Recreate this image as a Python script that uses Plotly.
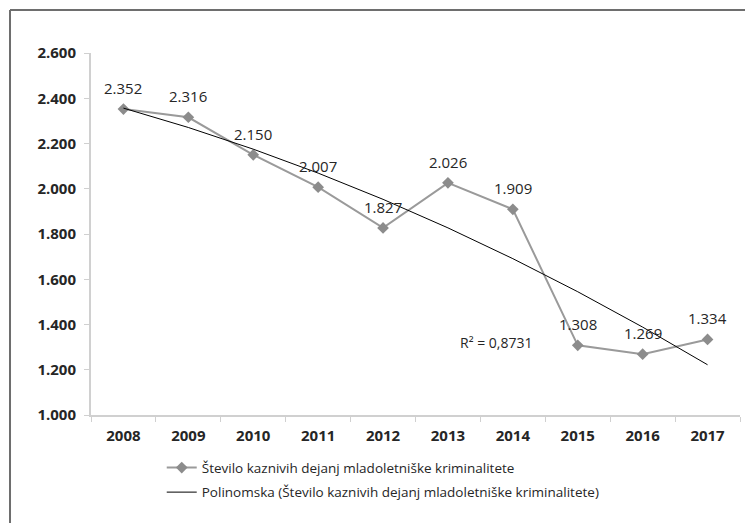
import numpy as np
import plotly.graph_objects as go

# data
years = ["2008", "2009", "2010", "2011", "2012", "2013", "2014", "2015", "2016", "2017"]
cases = [2352, 2316, 2150, 2007, 1827, 2026, 1909, 1308, 1269, 1334]
series_name = "Število kaznivih dejanj mladoletniške kriminalitete"
trend_name = "Polinomska (Število kaznivih dejanj mladoletniške kriminalitete)"
r2_label = "R² = 0,8731"

# 2nd order polynomial trendline like Excel
xs = np.arange(1, len(cases) + 1)
coef = np.polyfit(xs, cases, 2)
trend = np.polyval(coef, xs)

FONT = "Open Sans"
TXT = "#262626"

fig = go.Figure()
fig.add_trace(go.Scatter(
    x=years, y=cases, name=series_name, mode="lines+markers",
    line=dict(color="#9a9a9a", width=2),
    marker=dict(symbol="diamond", size=9, color="#8c8c8c"),
    legendgroup="a",
))
fig.add_trace(go.Scatter(
    x=years, y=list(trend), name=trend_name, mode="lines",
    line=dict(color="#000000", width=1),
    legendgroup="b",
))

# data labels above each point (category index as x)
for i, v in enumerate(cases):
    fig.add_annotation(
        x=i, y=v, text=f"{v:,}".replace(",", "."), showarrow=False,
        yshift=21, font=dict(family=FONT, size=15, color=TXT),
    )

fig.add_annotation(
    xref="paper", yref="paper", x=0.565, y=0.199, xanchor="left", yanchor="middle",
    text=r2_label, showarrow=False, font=dict(family=FONT, size=14, color=TXT),
)

# chart frame (top and left edges visible)
fig.add_shape(type="line", xref="paper", yref="paper", x0=-0.1248, x1=1.2,
              y0=1.1188, y1=1.1188, line=dict(color="#6e6e6e", width=2))
fig.add_shape(type="line", xref="paper", yref="paper", x0=-0.1248, x1=-0.1248,
              y0=1.1188, y1=-0.4, line=dict(color="#6e6e6e", width=2))

# page body has an 8px margin, so the figure is a bit smaller than the window
fig.update_layout(
    width=745, height=515,
    margin=dict(l=83, r=13, t=45, b=108),
    paper_bgcolor="white", plot_bgcolor="white",
    separators=",.",
    font=dict(family=FONT, color=TXT),
    legend=dict(
        x=0.109, y=-0.103, xanchor="left", yanchor="top",
        font=dict(family=FONT, size=13.5, color=TXT),
        traceorder="grouped", tracegroupgap=4,
        bgcolor="rgba(0,0,0,0)",
    ),
    xaxis=dict(
        type="category", range=[-0.5, len(years) - 0.5],
        showgrid=False, showline=True, linecolor="#d0d0d0", linewidth=2,
        ticks="outside", tickson="boundaries", ticklen=5, tickcolor="#d0d0d0",
        tickfont=dict(family=FONT, size=15, color=TXT, weight="bold"),
        tickangle=0, ticklabelstandoff=6,
    ),
    yaxis=dict(
        range=[1000, 2600], dtick=200, tickformat=",d",
        showgrid=False, showline=True, linecolor="#d0d0d0", linewidth=2,
        ticks="outside", ticklen=5, tickcolor="#d0d0d0",
        tickfont=dict(family=FONT, size=15, color=TXT, weight="bold"),
        zeroline=False, ticklabelstandoff=5,
    ),
)

fig.write_html("out.html")
